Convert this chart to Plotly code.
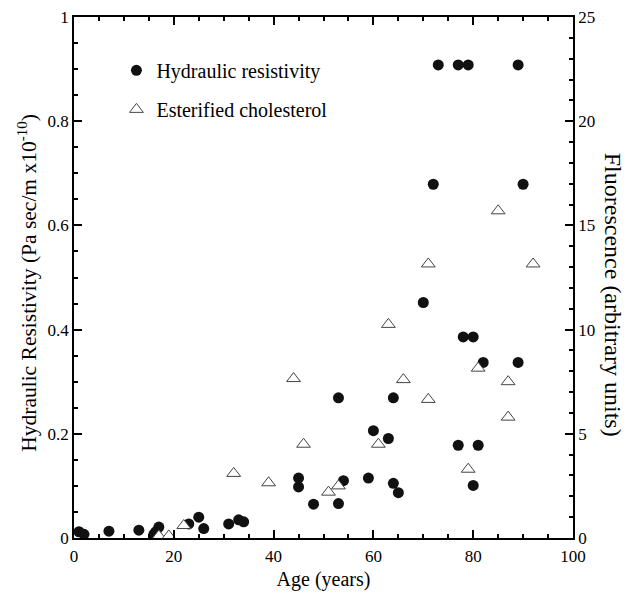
import plotly.graph_objects as go

# Hydraulic resistivity (left axis)
hr_age = [1, 2, 7, 13, 16, 16.4, 17, 23, 25, 26, 31, 33, 34, 45, 45, 48, 53, 53, 54, 59,
          60, 63, 64, 64, 65, 70, 72, 73, 77, 77, 78, 79, 80, 80, 81, 82, 89, 89, 90]
hr_val = [0.012, 0.007, 0.013, 0.015, 0.007, 0.012, 0.021, 0.027, 0.040, 0.018, 0.027,
          0.035, 0.031, 0.115, 0.098, 0.065, 0.269, 0.066, 0.110, 0.115,
          0.206, 0.191, 0.269, 0.105, 0.087, 0.452, 0.679, 0.908, 0.908, 0.178,
          0.386, 0.908, 0.386, 0.101, 0.178, 0.337, 0.908, 0.337, 0.679]

# Esterified cholesterol (right axis)
ec_age = [17, 19, 22, 32, 39, 44, 46, 51, 53, 61, 63, 66, 71, 71, 79, 81, 85, 87, 87, 92]
ec_val = [0.1, 0.1, 0.6, 3.1, 2.65, 7.65, 4.5, 2.2, 2.5, 4.5, 10.25, 7.6, 6.65, 13.15,
          3.3, 8.15, 15.7, 7.5, 5.8, 13.15]

FONT = "Liberation Serif, Times New Roman, DejaVu Serif, serif"

fig = go.Figure()
fig.add_trace(go.Scatter(
    x=hr_age, y=hr_val, mode="markers", name="Hydraulic resistivity",
    legendgroup="a", cliponaxis=False,
    marker=dict(symbol="circle", size=11, color="#111111", line=dict(width=0)),
))
fig.add_trace(go.Scatter(
    x=ec_age, y=ec_val, mode="markers", name="Esterified cholesterol",
    legendgroup="b", yaxis="y2", cliponaxis=False,
    marker=dict(symbol="triangle-up", size=12, color="white",
                line=dict(color="#444444", width=1)),
))

axis_common = dict(
    showline=True, linecolor="black", linewidth=1.5,
    ticks="inside", ticklen=8, tickwidth=1.5, tickcolor="black",
    showgrid=False, zeroline=False, automargin=False,
    ticklabeloverflow="allow",
    tickfont=dict(family=FONT, size=17, color="black"),
)

fig.update_layout(
    width=632, height=597,
    margin=dict(l=66, r=67, t=9, b=67, autoexpand=False),
    paper_bgcolor="white", plot_bgcolor="white",
    font=dict(family=FONT, size=17, color="black"),
    showlegend=True,
    legend=dict(x=0.085, y=0.935, xanchor="left", yanchor="top",
                font=dict(family=FONT, size=20, color="black"),
                bgcolor="rgba(0,0,0,0)", borderwidth=0,
                tracegroupgap=10, traceorder="grouped"),
    xaxis=dict(range=[0, 100], dtick=20, mirror="ticks", ticklabelstandoff=2,
               minor=dict(dtick=5, ticklen=4, tickwidth=1.5, tickcolor="black", ticks="inside"),
               title=dict(text="Age (years)", font=dict(family=FONT, size=20), standoff=7),
               **axis_common),
    yaxis=dict(range=[0, 1], dtick=0.2,
               minor=dict(dtick=0.05, ticklen=4, tickwidth=1.5, tickcolor="black", ticks="inside"),
               **axis_common),
    yaxis2=dict(range=[0, 25], dtick=5, overlaying="y", side="right",
                minor=dict(dtick=1, ticklen=4, tickwidth=1.5, tickcolor="black", ticks="inside"),
                **axis_common),
    annotations=[
        dict(text="Hydraulic Resistivity (Pa sec/m x10<sup>-10</sup>)", textangle=-90,
             xref="paper", yref="paper", x=-0.092, y=0.49, xanchor="center", yanchor="middle",
             showarrow=False, font=dict(family=FONT, size=21.5, color="black")),
        dict(text="Fluorescence (arbitrary units)", textangle=90,
             xref="paper", yref="paper", x=1.08, y=0.467, xanchor="center", yanchor="middle",
             showarrow=False, font=dict(family=FONT, size=24, color="black")),
    ],
)

fig.write_html("out.html")
